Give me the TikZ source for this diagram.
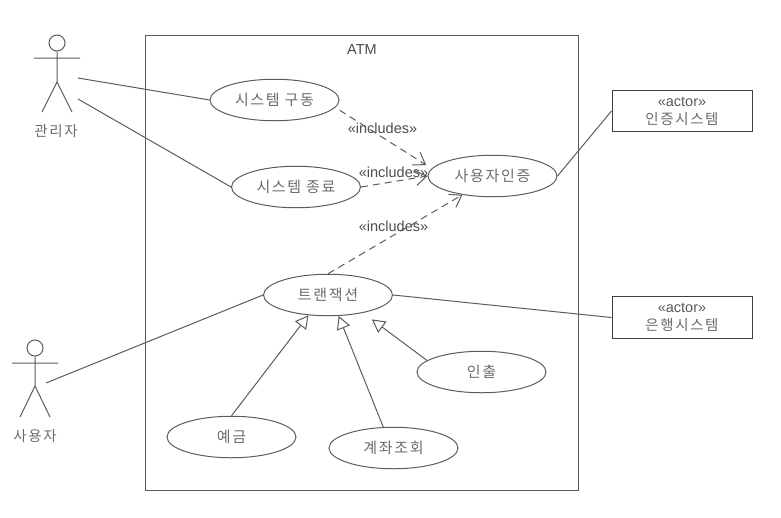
\documentclass[tikz,border=0pt]{standalone}
\usepackage{fontspec}
\setmainfont{Liberation Sans}
\newfontfamily\krfont[LetterSpace=11]{Noto Sans CJK KR}
\usetikzlibrary{arrows.meta,shapes.geometric}
\definecolor{ln}{gray}{0.36}
\definecolor{tx}{gray}{0.42}
\tikzset{
  uc/.style={draw=ln,line width=1pt,ellipse,minimum width=129pt,minimum height=41.5pt,inner sep=0pt,font=\fontsize{15}{17}\selectfont\krfont,text=tx},
  assoc/.style={draw=ln,line width=1pt},
  incl/.style={draw=ln,line width=1pt,dash pattern=on 7pt off 5pt,-{Straight Barb[length=11pt,width=15pt,line width=1pt]}},
  gen/.style={draw=ln,line width=1pt,-{Triangle[open,length=13pt,width=14pt,line width=1pt,fill=white]}},
  stick/.style={draw=ln,line width=1pt},
  head/.style={circle,draw=ln,line width=1pt,minimum size=16pt,inner sep=0pt},
  actorbox/.style={draw=black!75,line width=1pt,minimum width=140pt,minimum height=41.5pt,inner sep=0pt,align=center,font=\fontsize{14.5}{18}\selectfont,text=black!65},
  lbl/.style={inner sep=0pt,font=\fontsize{14.5}{17}\selectfont,text=black!70},
  krlbl/.style={inner sep=0pt,font=\fontsize{14.5}{17}\selectfont\krfont,text=tx},
}
\begin{document}
\begin{tikzpicture}[x=1pt,y=-1pt]
\useasboundingbox (0,0) rectangle (781,517);
% system boundary
\node[draw=ln,line width=1pt,minimum width=433pt,minimum height=455pt,inner sep=0pt] (atm) at (361.5,262.5) {};
\node[lbl] (atmlabel) at (362,50) {ATM};
% use cases
\node[uc] (start) at (274.5,100) {시스템 구동};
\node[uc] (stop) at (296,187) {시스템 종료};
\node[uc] (auth) at (492.5,176) {사용자인증};
\node[uc] (txn) at (328,295) {트랜잭션};
\node[uc] (withdraw) at (481.5,372) {인출};
\node[uc] (deposit) at (231.5,437) {예금};
\node[uc] (query) at (393.5,448) {계좌조회};
% external actors
\node[actorbox] (authsys) at (682,111) {«actor»\\{\color{tx}\krfont 인증시스템}};
\node[actorbox] (banksys) at (682,317.5) {«actor»\\{\color{tx}\krfont 은행시스템}};
% stick figure: admin
\node[head] (adminhead) at (57,43) {};
\coordinate (adminarmL) at (34,58);
\coordinate (adminarmR) at (80,58);
\coordinate (adminhip) at (57,82);
\coordinate (adminlegL) at (42,112);
\coordinate (adminlegR) at (72,112);
\draw[stick] (adminhead.south) -- (adminhip) (adminarmL) -- (adminarmR) (adminlegL) -- (adminhip) -- (adminlegR);
\node[krlbl] (adminlabel) at (56,131) {관리자};
\coordinate (adminA) at (78,78);
\coordinate (adminB) at (78,99);
% stick figure: user
\node[head] (userhead) at (35,348) {};
\coordinate (userarmL) at (12,363);
\coordinate (userarmR) at (58,363);
\coordinate (userhip) at (35,386);
\coordinate (userlegL) at (20,417);
\coordinate (userlegR) at (50,417);
\draw[stick] (userhead.south) -- (userhip) (userarmL) -- (userarmR) (userlegL) -- (userhip) -- (userlegR);
\node[krlbl] (userlabel) at (35,436) {사용자};
\coordinate (userA) at (46,383);
% associations
\draw[assoc] (adminA) -- (start.west);
\draw[assoc] (adminB) -- (stop.west);
\draw[assoc] (userA) -- (txn.west);
\draw[assoc] (auth.east) -- (authsys.west);
\draw[assoc] (txn.east) -- (banksys.west);
% includes
\draw[incl,shorten <=5pt,shorten >=6.5pt] (start.-7) -- (auth.173);
\draw[incl] (stop.east) -- (auth.west);
\draw[incl] (txn.north) -- (auth.212);
\node[lbl] (inc1) at (382.5,128) {«includes»};
\node[lbl] (inc2) at (393.5,172) {«includes»};
\node[lbl] (inc3) at (393.5,226) {«includes»};
% generalisations
\draw[gen] (deposit.north) -- (txn.226);
\draw[gen] (query.116.6) -- (txn.-63);
\draw[gen,shorten >=11pt] (withdraw.168) -- (txn.-27);
\end{tikzpicture}
\end{document}
